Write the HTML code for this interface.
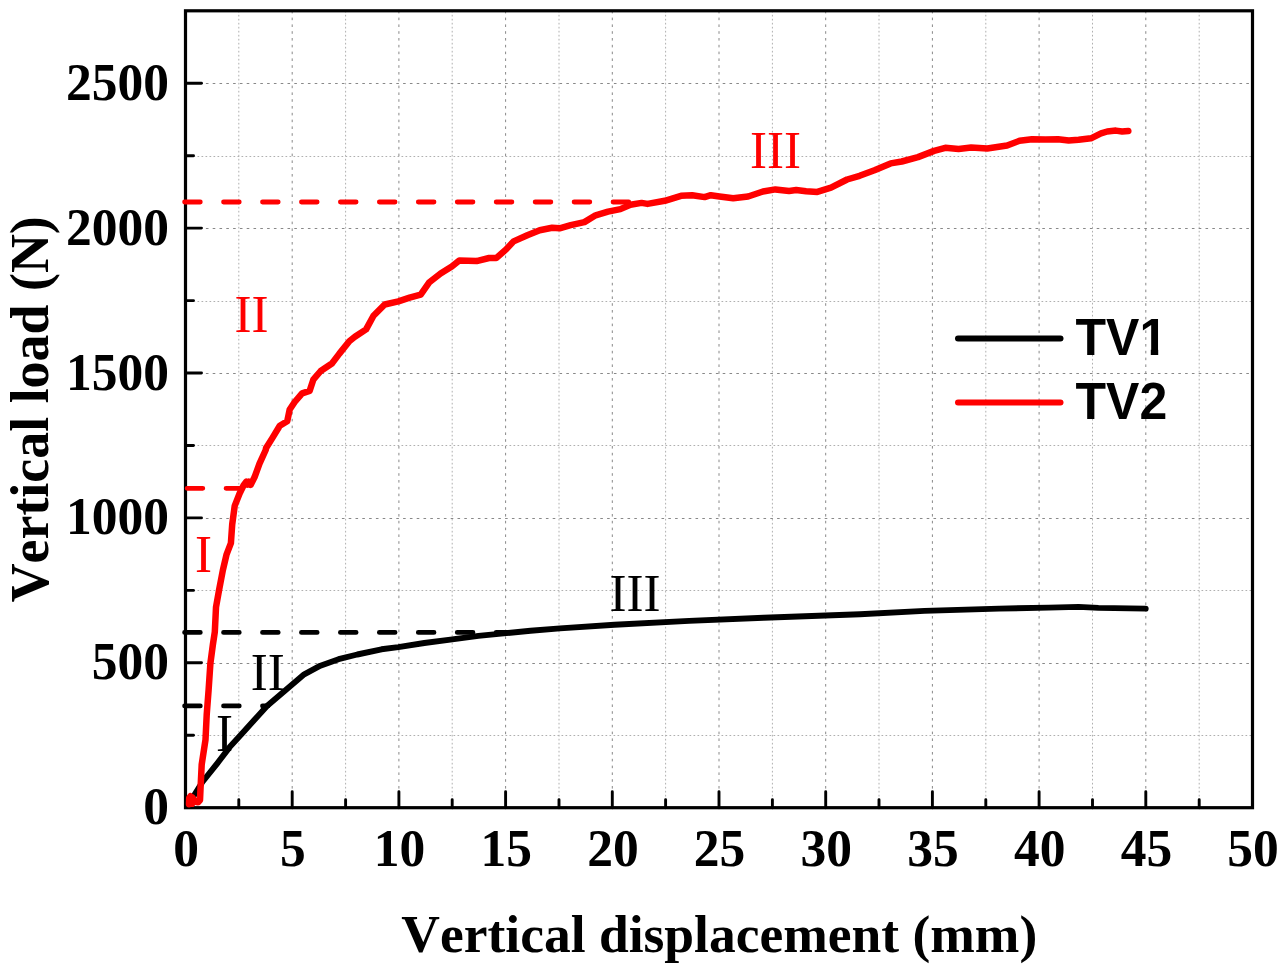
<!DOCTYPE html>
<html lang="en"><head><meta charset="utf-8"><title>Vertical load vs vertical displacement</title>
<style>
html,body{margin:0;padding:0;background:#fff;}
body{width:1288px;height:974px;overflow:hidden;}
svg{display:block;font-kerning:none;}
.tick{font-family:"Liberation Serif","Times New Roman",serif;font-weight:bold;font-size:51.5px;fill:#000;}
.title{font-family:"Liberation Serif","Times New Roman",serif;font-weight:bold;font-size:53.5px;fill:#000;}
.ann{font-family:"Liberation Serif","Times New Roman",serif;font-size:51px;}
.leg{font-family:"Liberation Sans",Arial,sans-serif;font-weight:bold;font-size:50px;fill:#000;}
</style></head><body>
<svg width="1288" height="974" viewBox="0 0 1288 974">
<rect width="1288" height="974" fill="#fff"/>

<g fill="none" stroke-width="1">
<line x1="238.8" y1="10.8" x2="238.8" y2="807.7" stroke="#b0b0b0" stroke-dasharray="1.7 2.3"/>
<line x1="345.6" y1="10.8" x2="345.6" y2="807.7" stroke="#b0b0b0" stroke-dasharray="1.7 2.3"/>
<line x1="452.2" y1="10.8" x2="452.2" y2="807.7" stroke="#b0b0b0" stroke-dasharray="1.7 2.3"/>
<line x1="559.0" y1="10.8" x2="559.0" y2="807.7" stroke="#b0b0b0" stroke-dasharray="1.7 2.3"/>
<line x1="665.6" y1="10.8" x2="665.6" y2="807.7" stroke="#b0b0b0" stroke-dasharray="1.7 2.3"/>
<line x1="772.4" y1="10.8" x2="772.4" y2="807.7" stroke="#b0b0b0" stroke-dasharray="1.7 2.3"/>
<line x1="879.0" y1="10.8" x2="879.0" y2="807.7" stroke="#b0b0b0" stroke-dasharray="1.7 2.3"/>
<line x1="985.8" y1="10.8" x2="985.8" y2="807.7" stroke="#b0b0b0" stroke-dasharray="1.7 2.3"/>
<line x1="1092.5" y1="10.8" x2="1092.5" y2="807.7" stroke="#b0b0b0" stroke-dasharray="1.7 2.3"/>
<line x1="1199.2" y1="10.8" x2="1199.2" y2="807.7" stroke="#b0b0b0" stroke-dasharray="1.7 2.3"/>
<line x1="185.5" y1="735.5" x2="1252.5" y2="735.5" stroke="#b0b0b0" stroke-dasharray="1.7 2.3"/>
<line x1="185.5" y1="590.5" x2="1252.5" y2="590.5" stroke="#b0b0b0" stroke-dasharray="1.7 2.3"/>
<line x1="185.5" y1="445.5" x2="1252.5" y2="445.5" stroke="#b0b0b0" stroke-dasharray="1.7 2.3"/>
<line x1="185.5" y1="301.5" x2="1252.5" y2="301.5" stroke="#b0b0b0" stroke-dasharray="1.7 2.3"/>
<line x1="185.5" y1="156.5" x2="1252.5" y2="156.5" stroke="#b0b0b0" stroke-dasharray="1.7 2.3"/>
<line x1="292.2" y1="10.8" x2="292.2" y2="807.7" stroke="#888888" stroke-dasharray="2.6 4.2"/>
<line x1="398.9" y1="10.8" x2="398.9" y2="807.7" stroke="#888888" stroke-dasharray="2.6 4.2"/>
<line x1="505.6" y1="10.8" x2="505.6" y2="807.7" stroke="#888888" stroke-dasharray="2.6 4.2"/>
<line x1="612.3" y1="10.8" x2="612.3" y2="807.7" stroke="#888888" stroke-dasharray="2.6 4.2"/>
<line x1="719.0" y1="10.8" x2="719.0" y2="807.7" stroke="#888888" stroke-dasharray="2.6 4.2"/>
<line x1="825.7" y1="10.8" x2="825.7" y2="807.7" stroke="#888888" stroke-dasharray="2.6 4.2"/>
<line x1="932.4" y1="10.8" x2="932.4" y2="807.7" stroke="#888888" stroke-dasharray="2.6 4.2"/>
<line x1="1039.1" y1="10.8" x2="1039.1" y2="807.7" stroke="#888888" stroke-dasharray="2.6 4.2"/>
<line x1="1145.8" y1="10.8" x2="1145.8" y2="807.7" stroke="#888888" stroke-dasharray="2.6 4.2"/>
<line x1="185.5" y1="663.5" x2="1252.5" y2="663.5" stroke="#888888" stroke-dasharray="2.6 4.2"/>
<line x1="185.5" y1="518.5" x2="1252.5" y2="518.5" stroke="#888888" stroke-dasharray="2.6 4.2"/>
<line x1="185.5" y1="373.5" x2="1252.5" y2="373.5" stroke="#888888" stroke-dasharray="2.6 4.2"/>
<line x1="185.5" y1="228.5" x2="1252.5" y2="228.5" stroke="#888888" stroke-dasharray="2.6 4.2"/>
<line x1="185.5" y1="83.5" x2="1252.5" y2="83.5" stroke="#888888" stroke-dasharray="2.6 4.2"/>
</g>
<g stroke="#000" stroke-width="2.9" stroke-linecap="round" fill="none">
<line x1="292.2" y1="807.7" x2="292.2" y2="791.7"/>
<line x1="398.9" y1="807.7" x2="398.9" y2="791.7"/>
<line x1="505.6" y1="807.7" x2="505.6" y2="791.7"/>
<line x1="612.3" y1="807.7" x2="612.3" y2="791.7"/>
<line x1="719.0" y1="807.7" x2="719.0" y2="791.7"/>
<line x1="825.7" y1="807.7" x2="825.7" y2="791.7"/>
<line x1="932.4" y1="807.7" x2="932.4" y2="791.7"/>
<line x1="1039.1" y1="807.7" x2="1039.1" y2="791.7"/>
<line x1="1145.8" y1="807.7" x2="1145.8" y2="791.7"/>
<line x1="238.8" y1="807.7" x2="238.8" y2="799.7"/>
<line x1="345.6" y1="807.7" x2="345.6" y2="799.7"/>
<line x1="452.2" y1="807.7" x2="452.2" y2="799.7"/>
<line x1="559.0" y1="807.7" x2="559.0" y2="799.7"/>
<line x1="665.6" y1="807.7" x2="665.6" y2="799.7"/>
<line x1="772.4" y1="807.7" x2="772.4" y2="799.7"/>
<line x1="879.0" y1="807.7" x2="879.0" y2="799.7"/>
<line x1="985.8" y1="807.7" x2="985.8" y2="799.7"/>
<line x1="1092.5" y1="807.7" x2="1092.5" y2="799.7"/>
<line x1="1199.2" y1="807.7" x2="1199.2" y2="799.7"/>
<line x1="185.5" y1="662.8" x2="201.5" y2="662.8"/>
<line x1="185.5" y1="517.9" x2="201.5" y2="517.9"/>
<line x1="185.5" y1="373.0" x2="201.5" y2="373.0"/>
<line x1="185.5" y1="228.1" x2="201.5" y2="228.1"/>
<line x1="185.5" y1="83.2" x2="201.5" y2="83.2"/>
<line x1="185.5" y1="735.3" x2="193.5" y2="735.3"/>
<line x1="185.5" y1="590.4" x2="193.5" y2="590.4"/>
<line x1="185.5" y1="445.5" x2="193.5" y2="445.5"/>
<line x1="185.5" y1="300.6" x2="193.5" y2="300.6"/>
<line x1="185.5" y1="155.7" x2="193.5" y2="155.7"/>
</g>
<rect x="185.5" y="10.8" width="1067.0" height="796.9" fill="none" stroke="#000" stroke-width="3.2"/>
<clipPath id="plot"><rect x="181" y="8" width="1074" height="801.4"/></clipPath>
<g clip-path="url(#plot)">
<g fill="none" stroke-width="4.8" stroke-linecap="round" stroke-dasharray="15.7 23.25">
<line x1="184.6" y1="705.9" x2="268" y2="705.9" stroke="#000"/>
<line x1="184.6" y1="632.4" x2="512" y2="632.4" stroke="#000"/>
<line x1="187.1" y1="488.3" x2="241" y2="488.3" stroke="#f00"/>
<line x1="184.6" y1="202" x2="630" y2="202" stroke="#f00"/>
</g>
<path d="M188.5,804.0 L192.4,798.0 L202.4,782.0 L217.3,763.3 L229.7,747.1 L242.1,733.5 L254.5,719.8 L267.0,706.1 L284.3,691.2 L304.2,674.3 L320.4,665.7 L338.6,659.2 L357.3,654.5 L381.5,649.3 L398.3,647.1 L424.3,643.0 L450.4,639.6 L478.4,635.9 L506.3,633.1 L530.5,630.7 L560.0,628.4 L614.5,624.7 L689.1,620.9 L763.6,617.7 L860.0,614.2 L924.5,610.9 L999.1,608.6 L1048.8,607.6 L1078.6,606.9 L1098.4,607.9 L1145.7,608.6" fill="none" stroke="#000" stroke-width="5.9" stroke-linejoin="round" stroke-linecap="round"/>
<path d="M189.0,804.2 L189.2,798.0 L190.5,796.3 L190.5,803.8 L192.0,803.8 L192.3,797.3 L193.5,799.0 L195.0,801.5 L198.0,802.3 L200.0,800.0 L200.5,789.0 L201.7,764.5 L205.5,739.7 L206.7,714.8 L208.6,690.0 L210.4,663.2 L212.9,644.5 L214.8,632.1 L216.0,607.3 L219.1,589.9 L222.9,570.0 L226.6,554.3 L230.9,543.2 L232.2,524.5 L234.7,505.9 L239.6,493.5 L243.5,485.5 L246.3,481.6 L247.6,484.6 L249.0,481.6 L250.6,484.9 L254.5,477.3 L259.5,463.7 L265.7,450.0 L266.1,448.0 L272.3,438.1 L279.8,425.7 L287.2,421.3 L289.7,409.5 L294.7,402.0 L302.1,393.4 L309.6,390.9 L313.3,379.7 L320.7,371.0 L331.9,363.5 L339.4,353.6 L349.3,341.2 L354.9,336.8 L366.1,329.4 L373.5,315.7 L384.7,304.5 L398.4,301.4 L409.6,297.7 L420.7,294.6 L429.4,282.2 L440.6,273.5 L451.8,266.6 L459.3,260.4 L476.6,261.1 L489.1,258.0 L496.2,258.1 L506.1,249.4 L513.6,241.4 L527.3,235.2 L539.7,230.2 L552.1,227.7 L559.6,228.3 L570.7,225.2 L584.4,222.1 L595.6,215.3 L608.0,211.6 L620.4,209.1 L630.4,204.7 L641.6,202.9 L647.5,203.9 L664.8,200.8 L681.0,195.8 L692.2,195.2 L704.6,197.1 L710.8,195.2 L719.5,196.5 L733.2,198.3 L748.1,196.5 L763.0,191.5 L775.4,189.4 L789.1,190.9 L796.2,190.1 L806.1,191.3 L817.3,191.9 L831.0,187.6 L847.1,179.5 L859.6,175.8 L874.5,170.2 L890.6,163.4 L901.8,161.5 L918.0,157.1 L934.1,150.9 L945.3,147.8 L958.6,148.9 L971.1,147.6 L987.2,148.5 L1007.1,145.5 L1019.5,140.8 L1031.9,139.3 L1045.6,139.6 L1058.0,139.3 L1068.7,140.6 L1078.6,139.8 L1091.0,138.3 L1101.0,133.4 L1107.2,131.5 L1115.9,130.6 L1122.1,131.5 L1128.3,130.9" fill="none" stroke="#f00" stroke-width="6.5" stroke-linejoin="round" stroke-linecap="round"/>
</g>
<g class="tick" text-anchor="middle">
<text transform="translate(186.1 866) scale(1 1.04)">0</text>
<text transform="translate(292.8 866) scale(1 1.04)">5</text>
<text transform="translate(399.5 866) scale(1 1.04)">10</text>
<text transform="translate(506.2 866) scale(1 1.04)">15</text>
<text transform="translate(612.9 866) scale(1 1.04)">20</text>
<text transform="translate(719.6 866) scale(1 1.04)">25</text>
<text transform="translate(826.3 866) scale(1 1.04)">30</text>
<text transform="translate(933.0 866) scale(1 1.04)">35</text>
<text transform="translate(1039.7 866) scale(1 1.04)">40</text>
<text transform="translate(1146.4 866) scale(1 1.04)">45</text>
<text transform="translate(1253.1 866) scale(1 1.04)">50</text>
</g>
<g class="tick" text-anchor="end">
<text transform="translate(168.9 824.2) scale(1 1.04)">0</text>
<text transform="translate(168.9 679.3) scale(1 1.04)">500</text>
<text transform="translate(168.9 534.4) scale(1 1.04)">1000</text>
<text transform="translate(168.9 389.5) scale(1 1.04)">1500</text>
<text transform="translate(168.9 244.6) scale(1 1.04)">2000</text>
<text transform="translate(168.9 99.7) scale(1 1.04)">2500</text>
</g>
<text class="title" text-anchor="middle" x="719.3" y="951.7">Vertical displacement (mm)</text>
<text class="title" style="font-size:53.9px" text-anchor="middle" transform="translate(47.8 409.3) rotate(-90)">Vertical load (N)</text>
<g class="ann">
<text transform="translate(216.0 750.6) scale(1 1.025)" fill="#000">I</text>
<text transform="translate(250.7 689.7) scale(1 1.025)" fill="#000">II</text>
<text transform="translate(609.6 611.0) scale(1 1.025)" fill="#000">III</text>
<text transform="translate(194.9 571.8) scale(1 1.025)" fill="#f00">I</text>
<text transform="translate(234.5 332.1) scale(1 1.025)" fill="#f00">II</text>
<text transform="translate(750.0 167.9) scale(1 1.025)" fill="#f00">III</text>
</g>
<g stroke-width="6" stroke-linecap="round">
<line x1="958" y1="338.4" x2="1060.5" y2="338.4" stroke="#000"/>
<line x1="958" y1="402.5" x2="1060.5" y2="402.5" stroke="#f00"/>
</g>
<clipPath id="c1"><rect x="-5" y="-45" width="70" height="50"/><rect x="65" y="-45" width="50" height="39.2"/><rect x="75.3" y="-6" width="7.4" height="8"/></clipPath>
<text class="leg" transform="translate(1075.5 354.9) scale(1 1.045)" clip-path="url(#c1)">TV1</text>
<text class="leg" transform="translate(1075.5 419.1) scale(1 1.045)">TV2</text>
</svg></body></html>
